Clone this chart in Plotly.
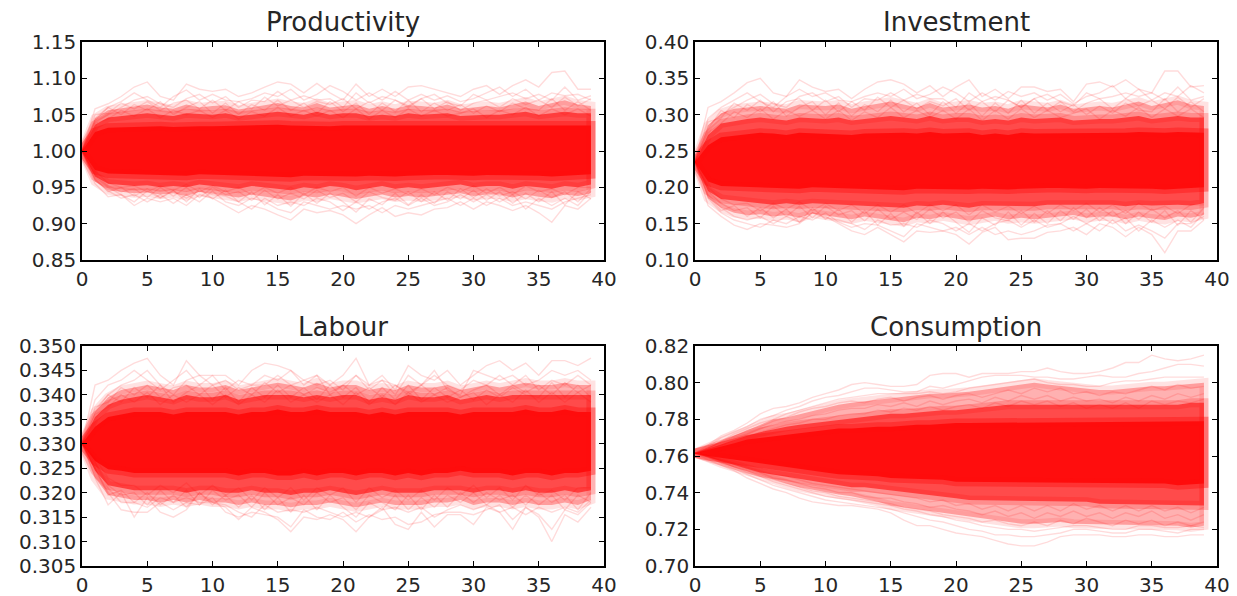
import plotly.graph_objects as go

steps = list(range(40))
titles = ["Productivity", "Investment", "Labour", "Consumption"]

# ---- Productivity
prod_light_up = [1.0,1.045,1.056,1.058,1.06,1.064,1.06,1.058,1.064,1.06,1.062,1.063,1.057,1.06,1.064,1.066,1.062,1.06,1.066,1.06,1.062,1.064,1.058,1.062,1.058,1.063,1.062,1.06,1.064,1.058,1.06,1.062,1.06,1.064,1.068,1.062,1.066,1.07,1.064,1.062]
prod_light_lo = [1.0,.958,.946,.945,.942,.943,.94,.942,.938,.944,.94,.938,.936,.94,.938,.935,.932,.938,.936,.94,.937,.934,.938,.94,.936,.938,.936,.94,.94,.942,.938,.94,.94,.936,.94,.937,.935,.94,.938,.942]
prod_mid_up = [1.0,1.036,1.046,1.048,1.05,1.052,1.05,1.048,1.052,1.05,1.05,1.052,1.048,1.05,1.052,1.054,1.052,1.05,1.054,1.05,1.052,1.052,1.048,1.05,1.048,1.052,1.05,1.05,1.052,1.048,1.05,1.05,1.05,1.052,1.054,1.05,1.052,1.054,1.052,1.052]
prod_mid_lo = [1.0,.965,.955,.954,.952,.953,.95,.952,.95,.954,.952,.95,.948,.952,.95,.948,.946,.95,.948,.952,.95,.946,.95,.952,.948,.95,.948,.952,.952,.954,.95,.952,.952,.948,.952,.95,.948,.952,.95,.954]
prod_core_up = [1.0,1.026,1.032,1.033,1.034,1.035,1.034,1.033,1.035,1.034,1.034,1.035,1.033,1.034,1.035,1.036,1.035,1.034,1.036,1.034,1.035,1.035,1.033,1.034,1.033,1.035,1.034,1.034,1.035,1.033,1.034,1.034,1.034,1.035,1.036,1.034,1.035,1.036,1.035,1.035]
prod_core_lo = [1.0,.974,.969,.968,.967,.967,.966,.967,.966,.968,.967,.966,.965,.967,.966,.965,.964,.966,.965,.967,.966,.965,.966,.967,.965,.966,.965,.967,.967,.968,.966,.967,.967,.965,.967,.966,.965,.967,.966,.968]
prod_a = [1.0,1.058,1.065,1.075,1.088,1.095,1.075,1.07,1.092,1.085,1.082,1.085,1.075,1.08,1.088,1.095,1.092,1.08,1.093,1.08,1.07,1.092,1.075,1.085,1.075,1.088,1.09,1.085,1.08,1.075,1.085,1.09,1.078,1.09,1.098,1.088,1.108,1.11,1.085,1.085]
prod_b = [1.0,1.045,1.06,1.068,1.08,1.07,1.06,1.075,1.084,1.07,1.078,1.07,1.068,1.072,1.08,1.075,1.085,1.07,1.078,1.09,1.082,1.07,1.08,1.07,1.082,1.07,1.078,1.07,1.076,1.068,1.072,1.08,1.088,1.075,1.085,1.07,1.08,1.076,1.078,1.07]
prod_c = [1.0,1.04,1.05,1.06,1.07,1.075,1.065,1.06,1.072,1.078,1.066,1.075,1.06,1.07,1.068,1.082,1.07,1.076,1.07,1.072,1.06,1.08,1.066,1.075,1.07,1.06,1.072,1.078,1.066,1.062,1.078,1.07,1.075,1.08,1.072,1.078,1.07,1.088,1.07,1.076]
prod_g = [1.0,1.05,1.052,1.066,1.058,1.068,1.056,1.066,1.07,1.058,1.07,1.056,1.068,1.058,1.074,1.062,1.07,1.06,1.068,1.064,1.072,1.058,1.068,1.056,1.07,1.062,1.072,1.058,1.068,1.056,1.066,1.07,1.06,1.072,1.064,1.07,1.06,1.074,1.062,1.072]
prod_h = [1.0,1.042,1.06,1.05,1.064,1.056,1.068,1.05,1.06,1.068,1.052,1.066,1.05,1.064,1.056,1.07,1.056,1.066,1.052,1.068,1.054,1.066,1.05,1.066,1.054,1.07,1.054,1.066,1.056,1.064,1.052,1.062,1.054,1.066,1.058,1.056,1.072,1.056,1.068,1.056]
prod_i = [1.0,1.038,1.044,1.056,1.048,1.058,1.046,1.056,1.05,1.056,1.046,1.056,1.044,1.054,1.048,1.06,1.048,1.056,1.048,1.056,1.046,1.058,1.044,1.056,1.046,1.058,1.048,1.056,1.048,1.052,1.058,1.046,1.056,1.05,1.06,1.048,1.058,1.05,1.058,1.048]
prod_d = [1.0,.955,.937,.94,.925,.935,.93,.935,.925,.94,.935,.925,.915,.925,.92,.912,.905,.92,.915,.918,.912,.9,.912,.922,.91,.915,.912,.92,.922,.93,.92,.93,.925,.918,.925,.915,.902,.925,.92,.935]
prod_e = [1.0,.96,.945,.935,.94,.93,.94,.928,.94,.93,.945,.93,.925,.935,.93,.92,.915,.93,.925,.92,.925,.92,.925,.915,.925,.92,.925,.93,.935,.925,.935,.925,.935,.925,.93,.925,.92,.93,.935,.94]
prod_f = [1.0,.965,.95,.94,.93,.945,.935,.945,.935,.945,.94,.938,.93,.92,.935,.925,.93,.925,.935,.93,.918,.93,.92,.93,.935,.925,.935,.925,.93,.94,.93,.94,.93,.94,.92,.935,.925,.935,.925,.945]
prod_j = [1.0,.962,.944,.95,.938,.948,.936,.946,.93,.948,.934,.946,.93,.944,.926,.94,.924,.942,.928,.942,.93,.916,.934,.926,.942,.926,.94,.928,.944,.934,.946,.932,.944,.928,.942,.93,.944,.926,.944,.934]
prod_k = [1.0,.968,.952,.944,.948,.936,.95,.938,.95,.936,.95,.94,.944,.932,.946,.934,.942,.934,.946,.936,.942,.93,.944,.936,.932,.944,.93,.944,.932,.948,.936,.948,.938,.944,.934,.946,.936,.944,.93,.948]
prod_l = [1.0,.972,.956,.95,.952,.944,.952,.946,.954,.944,.952,.944,.95,.94,.95,.942,.95,.94,.95,.944,.95,.938,.95,.942,.948,.94,.948,.94,.95,.944,.952,.942,.95,.94,.952,.944,.948,.94,.95,.95]

# ---- Investment
inv_light_up = [.235,.285,.302,.308,.31,.312,.31,.308,.314,.312,.312,.314,.308,.312,.314,.318,.314,.31,.316,.31,.312,.314,.31,.312,.308,.314,.312,.31,.314,.308,.31,.312,.31,.314,.318,.312,.316,.32,.314,.312]
inv_light_lo = [.235,.185,.172,.165,.162,.163,.16,.162,.158,.164,.16,.158,.156,.16,.158,.155,.152,.158,.156,.16,.157,.154,.158,.16,.156,.158,.156,.16,.16,.162,.158,.16,.16,.156,.16,.157,.155,.16,.158,.162]
inv_mid_up = [.235,.272,.288,.292,.294,.296,.294,.292,.296,.294,.294,.296,.292,.294,.296,.298,.296,.294,.298,.294,.296,.296,.292,.294,.292,.296,.294,.294,.296,.292,.294,.294,.294,.296,.298,.294,.296,.298,.296,.296]
inv_mid_lo = [.235,.195,.184,.18,.178,.178,.176,.178,.176,.178,.176,.175,.174,.176,.175,.173,.172,.175,.174,.176,.175,.172,.175,.176,.174,.175,.174,.176,.176,.178,.175,.176,.176,.174,.176,.175,.174,.176,.175,.178]
inv_core_up = [.235,.258,.269,.272,.274,.275,.274,.272,.275,.274,.274,.275,.272,.274,.275,.276,.275,.274,.276,.274,.275,.275,.272,.274,.272,.275,.274,.274,.275,.272,.274,.274,.274,.275,.276,.274,.275,.276,.275,.275]
inv_core_lo = [.235,.208,.202,.2,.199,.199,.198,.199,.198,.2,.199,.198,.197,.199,.198,.197,.196,.198,.197,.199,.198,.197,.198,.199,.197,.198,.197,.199,.199,.2,.198,.199,.199,.197,.199,.198,.197,.199,.198,.2]
inv_a = [.235,.31,.318,.33,.344,.35,.33,.325,.348,.338,.332,.335,.322,.335,.345,.348,.342,.33,.34,.325,.338,.348,.325,.335,.322,.338,.338,.332,.335,.318,.342,.345,.338,.348,.335,.33,.36,.36,.338,.34]
inv_b = [.235,.295,.31,.32,.33,.318,.31,.325,.335,.325,.33,.32,.318,.325,.33,.325,.335,.322,.328,.338,.33,.318,.33,.32,.332,.325,.33,.32,.328,.315,.325,.33,.34,.322,.335,.32,.33,.325,.34,.33]
inv_c = [.235,.285,.3,.31,.32,.328,.315,.31,.325,.33,.318,.325,.31,.322,.32,.33,.32,.328,.322,.322,.31,.33,.318,.325,.32,.31,.322,.328,.318,.312,.33,.322,.325,.33,.325,.33,.32,.338,.32,.325]
inv_g = [.235,.29,.296,.316,.306,.32,.304,.318,.322,.306,.32,.304,.318,.306,.324,.31,.32,.308,.318,.312,.322,.306,.318,.304,.32,.31,.322,.306,.318,.304,.316,.322,.308,.322,.312,.32,.308,.324,.31,.322]
inv_h = [.235,.28,.306,.296,.314,.304,.318,.298,.31,.318,.3,.316,.298,.314,.304,.32,.304,.316,.3,.318,.302,.316,.298,.316,.302,.32,.302,.316,.304,.314,.3,.312,.302,.316,.306,.304,.322,.304,.318,.304]
inv_i = [.235,.275,.288,.304,.296,.308,.294,.306,.298,.306,.294,.306,.292,.304,.296,.31,.296,.306,.296,.306,.294,.308,.292,.306,.294,.308,.296,.306,.296,.302,.308,.294,.306,.298,.31,.296,.308,.298,.308,.296]
inv_d = [.235,.175,.16,.148,.142,.15,.148,.145,.15,.165,.16,.15,.14,.135,.145,.135,.125,.14,.138,.14,.135,.122,.138,.145,.128,.13,.13,.138,.14,.145,.135,.15,.145,.132,.145,.135,.11,.14,.14,.155]
inv_e = [.235,.185,.165,.155,.15,.145,.155,.15,.16,.155,.165,.152,.145,.15,.148,.14,.132,.15,.145,.14,.145,.135,.145,.135,.14,.135,.14,.148,.15,.14,.15,.14,.155,.14,.148,.14,.13,.15,.15,.16]
inv_f = [.235,.19,.172,.16,.155,.16,.15,.16,.152,.165,.158,.155,.15,.142,.155,.148,.15,.145,.155,.15,.14,.15,.14,.15,.155,.145,.155,.145,.15,.16,.15,.16,.15,.158,.14,.155,.145,.155,.145,.165]
inv_j = [.235,.188,.168,.175,.16,.172,.158,.17,.152,.172,.156,.17,.152,.168,.148,.164,.146,.166,.15,.166,.152,.138,.158,.148,.166,.148,.164,.15,.168,.156,.17,.154,.168,.15,.166,.152,.168,.148,.168,.156]
inv_k = [.235,.195,.178,.168,.172,.158,.174,.16,.174,.158,.174,.162,.168,.154,.17,.156,.166,.156,.17,.158,.166,.152,.168,.158,.154,.168,.152,.168,.154,.172,.158,.172,.16,.168,.156,.17,.158,.168,.152,.172]
inv_l = [.235,.2,.184,.176,.178,.168,.178,.17,.18,.168,.178,.168,.176,.164,.176,.166,.176,.164,.176,.168,.176,.162,.176,.166,.174,.164,.174,.164,.176,.168,.178,.166,.176,.164,.178,.168,.174,.164,.176,.176]

# ---- Labour
lab_light_up = [.33,.3365,.3395,.341,.3415,.342,.3415,.341,.342,.3415,.3415,.342,.341,.3415,.342,.3425,.342,.3415,.3425,.3415,.342,.342,.341,.3415,.341,.342,.3415,.3415,.342,.341,.3415,.342,.3415,.342,.3425,.342,.342,.3425,.342,.342]
lab_light_lo = [.33,.323,.3195,.319,.3185,.3185,.318,.3185,.318,.3185,.318,.318,.3175,.318,.3175,.3175,.317,.3175,.3175,.318,.3175,.317,.3175,.318,.3175,.3175,.3175,.318,.318,.3185,.3175,.318,.318,.3175,.318,.3175,.3175,.318,.3175,.3185]
lab_mid_up = [.33,.3355,.338,.339,.3395,.34,.3395,.339,.34,.3395,.3395,.34,.339,.3395,.34,.34,.34,.3395,.34,.3395,.34,.34,.339,.3395,.339,.34,.3395,.3395,.34,.339,.3395,.34,.3395,.34,.34,.34,.34,.34,.34,.34]
lab_mid_lo = [.33,.3245,.3215,.321,.3205,.3205,.3205,.3205,.32,.3205,.3205,.32,.32,.3205,.32,.32,.3195,.32,.32,.3205,.32,.3195,.32,.3205,.32,.32,.32,.3205,.3205,.3205,.32,.3205,.3205,.32,.3205,.32,.32,.3205,.32,.3205]
lab_core_up = [.33,.3335,.3355,.336,.3365,.3365,.3365,.336,.3365,.3365,.3365,.3365,.336,.3365,.3365,.337,.3365,.3365,.337,.3365,.3365,.3365,.336,.3365,.336,.3365,.3365,.3365,.3365,.336,.3365,.3365,.3365,.3365,.337,.3365,.3365,.337,.3365,.3365]
lab_core_lo = [.33,.3265,.3248,.3245,.324,.324,.324,.324,.324,.324,.324,.324,.3235,.324,.324,.3235,.3235,.324,.3235,.324,.324,.3235,.324,.324,.3235,.324,.3235,.324,.324,.3245,.324,.324,.324,.3235,.324,.324,.3235,.324,.324,.3245]
lab_a = [.33,.342,.343,.345,.3465,.3475,.344,.342,.347,.344,.344,.344,.342,.345,.3465,.346,.345,.343,.344,.342,.344,.3475,.342,.344,.341,.346,.344,.343,.345,.342,.344,.346,.347,.345,.3465,.344,.347,.347,.346,.3475]
lab_b = [.33,.339,.342,.343,.345,.343,.341,.343,.345,.342,.344,.341,.343,.342,.344,.343,.345,.342,.344,.34,.342,.344,.341,.343,.34,.344,.342,.345,.341,.34,.345,.344,.343,.344,.342,.343,.345,.344,.345,.343]
lab_c = [.33,.337,.34,.342,.343,.345,.342,.34,.343,.344,.342,.343,.341,.342,.342,.344,.342,.343,.342,.343,.341,.344,.342,.343,.342,.34,.342,.344,.342,.341,.343,.342,.344,.342,.344,.341,.343,.342,.344,.342]
lab_g = [.33,.3375,.3385,.3415,.34,.342,.3395,.3415,.342,.34,.342,.3395,.3415,.34,.3425,.3405,.342,.34,.3415,.3405,.342,.34,.3415,.3395,.342,.3405,.342,.34,.3415,.3395,.341,.342,.34,.342,.3405,.342,.34,.3425,.3405,.342]
lab_h = [.33,.3365,.34,.3385,.3415,.3395,.342,.3385,.3405,.342,.339,.3415,.3385,.3415,.3395,.342,.3395,.3415,.339,.342,.3395,.3415,.3385,.3415,.339,.342,.339,.3415,.3395,.341,.339,.341,.3395,.3415,.34,.3395,.3425,.3395,.342,.3395]
lab_i = [.33,.336,.3375,.34,.3385,.3405,.338,.34,.3385,.34,.338,.34,.338,.34,.3385,.341,.3385,.34,.3385,.34,.338,.3405,.338,.34,.338,.3405,.3385,.34,.3385,.3395,.3405,.338,.34,.3385,.341,.3385,.3405,.3385,.3405,.3385]
lab_d = [.33,.323,.3175,.32,.315,.319,.316,.315,.3165,.32,.318,.317,.3145,.317,.316,.3145,.312,.315,.3145,.3155,.3145,.312,.315,.317,.3135,.3125,.316,.313,.3155,.3155,.3135,.317,.316,.3125,.317,.315,.31,.3155,.314,.317]
lab_e = [.33,.325,.32,.3165,.316,.316,.318,.3165,.318,.3175,.319,.316,.315,.316,.3155,.315,.313,.3165,.315,.3145,.316,.314,.3155,.3145,.315,.3135,.314,.3155,.316,.316,.3155,.3165,.3175,.3145,.317,.3155,.3125,.3165,.3155,.318]
lab_f = [.33,.326,.321,.318,.318,.317,.319,.318,.319,.318,.318,.3175,.316,.315,.3175,.316,.3165,.316,.317,.316,.315,.316,.315,.3165,.317,.316,.317,.315,.3165,.3175,.3165,.3175,.316,.317,.3155,.317,.316,.317,.316,.3185]
lab_j = [.33,.325,.3195,.3205,.318,.32,.3175,.3195,.317,.32,.3175,.3195,.317,.3195,.3165,.319,.316,.3195,.3165,.3195,.317,.315,.318,.3165,.3195,.3165,.319,.317,.3195,.318,.32,.3175,.3195,.317,.3195,.3175,.3195,.3165,.3195,.318]
lab_k = [.33,.3265,.3215,.3195,.32,.3175,.3205,.318,.3205,.3175,.3205,.3185,.3195,.317,.32,.3175,.319,.3175,.32,.318,.319,.3165,.3195,.318,.3165,.3195,.3165,.3195,.317,.32,.318,.32,.3185,.3195,.3175,.32,.318,.3195,.3165,.32]
lab_l = [.33,.327,.323,.3215,.3215,.3195,.3215,.32,.322,.3195,.3215,.3195,.321,.3185,.321,.319,.321,.3185,.321,.3195,.321,.318,.321,.319,.3205,.3185,.3205,.3185,.321,.3195,.3215,.319,.321,.3185,.3215,.3195,.3205,.3185,.321,.321]

# ---- Consumption
cons_light_up = [.7615,.765,.768,.771,.774,.777,.78,.781,.783,.785,.787,.788,.789,.79,.791,.792,.792,.793,.794,.794,.794,.795,.796,.797,.798,.799,.8,.799,.798,.797,.797,.796,.796,.797,.797,.798,.798,.799,.8,.8]
cons_light_lo = [.7615,.759,.756,.754,.751,.749,.747,.745,.743,.741,.74,.739,.738,.737,.735,.733,.731,.73,.729,.728,.727,.726,.725,.724,.724,.723,.723,.723,.724,.723,.723,.722,.723,.723,.722,.722,.722,.722,.721,.722]
cons_mid_up = [.7615,.764,.767,.769,.771,.773,.775,.776,.777,.778,.779,.78,.781,.782,.782,.783,.783,.784,.784,.785,.785,.786,.787,.787,.788,.788,.788,.788,.788,.787,.787,.787,.787,.787,.787,.788,.788,.788,.789,.789]
cons_mid_lo = [.7615,.76,.757,.755,.753,.751,.75,.748,.747,.746,.745,.744,.743,.743,.742,.741,.74,.739,.738,.738,.737,.736,.736,.735,.735,.735,.735,.735,.735,.735,.735,.734,.734,.734,.734,.734,.734,.733,.733,.733]
cons_core_up = [.7615,.763,.765,.767,.769,.77,.771,.772,.773,.774,.774,.775,.775,.776,.776,.776,.777,.777,.777,.778,.778,.778,.778,.779,.779,.779,.779,.779,.779,.779,.779,.779,.779,.779,.778,.778,.778,.779,.779,.779]
cons_core_lo = [.7615,.76,.758,.757,.756,.755,.754,.753,.752,.752,.751,.75,.75,.749,.749,.748,.748,.747,.747,.747,.746,.746,.746,.745,.745,.745,.745,.745,.745,.745,.745,.745,.745,.745,.745,.745,.745,.744,.744,.745]
cons_a = [.7615,.766,.771,.774,.778,.783,.786,.787,.789,.792,.794,.796,.799,.8,.799,.798,.798,.799,.804,.805,.805,.803,.805,.805,.805,.806,.806,.808,.806,.805,.805,.806,.808,.811,.811,.815,.813,.812,.813,.815]
cons_b = [.7615,.765,.77,.773,.776,.78,.782,.785,.787,.79,.792,.793,.795,.797,.797,.796,.795,.795,.798,.797,.799,.801,.803,.804,.804,.804,.803,.803,.802,.802,.803,.804,.803,.803,.805,.806,.808,.81,.81,.809]
cons_c = [.7615,.764,.768,.772,.775,.778,.78,.783,.785,.787,.789,.791,.792,.793,.794,.794,.794,.794,.795,.794,.795,.797,.798,.799,.8,.801,.802,.8,.799,.799,.798,.798,.8,.801,.801,.802,.803,.803,.803,.803]
cons_g = [.7615,.7645,.768,.771,.774,.776,.779,.781,.784,.786,.787,.789,.79,.789,.791,.792,.79,.792,.793,.791,.793,.794,.792,.794,.796,.794,.797,.795,.797,.794,.795,.793,.795,.794,.796,.798,.796,.799,.797,.798]
cons_h = [.7615,.764,.767,.77,.772,.775,.777,.779,.78,.782,.783,.785,.786,.786,.788,.787,.789,.787,.79,.788,.79,.791,.789,.792,.79,.793,.791,.793,.79,.792,.79,.791,.789,.792,.79,.793,.791,.794,.792,.794]
cons_i = [.7615,.7635,.766,.769,.771,.773,.775,.777,.778,.78,.78,.782,.783,.783,.785,.784,.786,.785,.787,.785,.787,.788,.786,.789,.787,.79,.788,.79,.787,.789,.786,.788,.786,.789,.786,.79,.788,.79,.789,.791]
cons_d = [.7615,.758,.755,.752,.748,.745,.742,.74,.737,.735,.734,.733,.733,.732,.731,.729,.725,.722,.722,.72,.718,.717,.716,.714,.712,.711,.711,.713,.716,.717,.717,.717,.716,.716,.717,.717,.716,.716,.717,.717]
cons_e = [.7615,.759,.756,.753,.75,.747,.744,.742,.74,.738,.736,.735,.734,.733,.732,.731,.729,.727,.725,.724,.722,.72,.719,.717,.717,.716,.716,.717,.718,.72,.72,.719,.718,.718,.72,.72,.719,.718,.72,.72]
cons_f = [.7615,.76,.757,.754,.751,.749,.746,.744,.742,.74,.738,.737,.736,.735,.734,.733,.731,.73,.728,.727,.725,.724,.722,.721,.72,.72,.719,.72,.721,.722,.722,.721,.72,.72,.722,.722,.721,.721,.722,.721]
cons_j = [.7615,.7595,.757,.754,.752,.749,.747,.745,.743,.741,.74,.738,.737,.736,.735,.734,.732,.731,.73,.728,.727,.726,.724,.725,.723,.722,.724,.722,.725,.723,.726,.724,.722,.725,.723,.725,.722,.724,.722,.724]
cons_k = [.7615,.76,.7575,.755,.753,.751,.748,.747,.745,.743,.742,.74,.74,.738,.737,.737,.735,.734,.732,.733,.731,.73,.728,.73,.727,.729,.726,.729,.727,.73,.727,.729,.726,.729,.727,.73,.726,.728,.725,.728]
cons_l = [.7615,.76,.758,.756,.754,.752,.75,.749,.747,.745,.744,.743,.742,.741,.74,.739,.738,.737,.735,.736,.733,.734,.731,.733,.73,.733,.73,.733,.73,.734,.731,.733,.73,.733,.73,.733,.73,.732,.729,.732]

panels = [
    dict(bands=[(prod_light_up, prod_light_lo), (prod_mid_up, prod_mid_lo), (prod_core_up, prod_core_lo)],
         lines=[prod_a, prod_b, prod_c, prod_g, prod_h, prod_i, prod_d, prod_e, prod_f, prod_j, prod_k, prod_l]),
    dict(bands=[(inv_light_up, inv_light_lo), (inv_mid_up, inv_mid_lo), (inv_core_up, inv_core_lo)],
         lines=[inv_a, inv_b, inv_c, inv_g, inv_h, inv_i, inv_d, inv_e, inv_f, inv_j, inv_k, inv_l]),
    dict(bands=[(lab_light_up, lab_light_lo), (lab_mid_up, lab_mid_lo), (lab_core_up, lab_core_lo)],
         lines=[lab_a, lab_b, lab_c, lab_g, lab_h, lab_i, lab_d, lab_e, lab_f, lab_j, lab_k, lab_l]),
    dict(bands=[(cons_light_up, cons_light_lo), (cons_mid_up, cons_mid_lo), (cons_core_up, cons_core_lo)],
         lines=[cons_a, cons_b, cons_c, cons_g, cons_h, cons_i, cons_d, cons_e, cons_f, cons_j, cons_k, cons_l]),
]
y_ranges = [[.85, 1.15], [.10, .40], [.305, .35], [.70, .82]]
y_dticks = [.05, .05, .005, .02]
y_formats = [".2f", ".2f", ".3f", ".2f"]

# the page keeps its default 8 px body margin, so the figure starts at (8, 8)
W, H = 1229, 588
x_boxes = [(74, 596), (687, 1209), (74, 596), (687, 1209)]
y_boxes = [(34, 252), (34, 252), (338, 558), (338, 558)]
title_y = [31, 31, 336, 336]
band_fills = ["rgba(255,13,13,0.32)", "rgba(255,13,13,0.62)", "rgba(255,13,13,1)"]
edge_lines = ["rgba(255,13,13,0.12)", "rgba(255,13,13,0.22)", "rgba(255,13,13,0.4)"]
FONT = "DejaVu Sans"
INK = "#262626"

fig = go.Figure()
layout = dict(
    width=W, height=H, margin=dict(l=0, r=0, t=0, b=0, autoexpand=False), autosize=False,
    paper_bgcolor="white", plot_bgcolor="white", showlegend=False,
    font=dict(family=FONT, size=20, color=INK), annotations=[],
)
for i, p in enumerate(panels):
    suffix = "" if i == 0 else str(i + 1)
    xa, ya = "x" + suffix, "y" + suffix
    for (up, lo), col, edge in zip(p["bands"], band_fills, edge_lines):
        fig.add_trace(go.Scatter(x=steps + steps[::-1], y=up + lo[::-1], xaxis=xa, yaxis=ya,
                                 mode="lines", fill="toself", fillcolor=col,
                                 line=dict(color=edge, width=9), hoverinfo="skip"))
    for s in p["lines"]:
        fig.add_trace(go.Scatter(x=steps, y=s, xaxis=xa, yaxis=ya, mode="lines",
                                 line=dict(color="rgba(255,0,0,0.14)", width=1.4), hoverinfo="skip"))
    common = dict(showgrid=False, zeroline=False, showline=True, linecolor="black", linewidth=1.5,
                  mirror="ticks", ticks="inside", ticklen=5, tickwidth=1, tickcolor="black",
                  automargin=False, ticklabelstandoff=0,
                  tickfont=dict(family=FONT, size=20, color=INK))
    layout["xaxis" + suffix] = dict(domain=[x_boxes[i][0] / W, x_boxes[i][1] / W], range=[0, 40], dtick=5,
                                    tick0=0, anchor=ya, **common)
    layout["yaxis" + suffix] = dict(domain=[1 - y_boxes[i][1] / H, 1 - y_boxes[i][0] / H], range=y_ranges[i],
                                    dtick=y_dticks[i], tick0=y_ranges[i][0], tickformat=y_formats[i],
                                    anchor=xa, **common)
    layout["annotations"].append(dict(text=titles[i], xref="paper", yref="paper", showarrow=False,
                                      x=(x_boxes[i][0] + x_boxes[i][1]) / 2 / W, y=1 - title_y[i] / H,
                                      xanchor="center", yanchor="bottom",
                                      font=dict(family=FONT, size=26, color=INK)))
fig.update_layout(**layout)
fig.write_html("out.html")
